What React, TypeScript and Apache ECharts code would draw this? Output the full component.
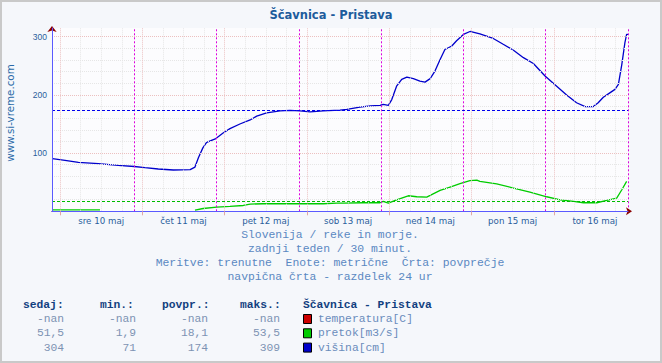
import React, { useEffect, useRef } from 'react';
import * as echarts from 'echarts';

// ---------- data ----------
const TITLE = 'Ščavnica - Pristava';
const WATERMARK = 'www.si-vreme.com';
const DAY_LABELS = ['sre 10 maj', 'čet 11 maj', 'pet 12 maj', 'sob 13 maj', 'ned 14 maj', 'pon 15 maj', 'tor 16 maj'];
const Y_LABELS = [100, 200, 300];

// hours since window start, value
const VISINA: [number, number][] = [
  [0.1, 90.5], [3.8, 87.6], [7.7, 84], [13.5, 82], [19.3, 79], [24.0, 77], [27.1, 75], [31.0, 72.7],
  [35.4, 71], [40.3, 71.5], [41.7, 76], [42.7, 92], [44.0, 109], [45.1, 118.6], [47.8, 125], [50.0, 135],
  [51.9, 142], [54.8, 150], [57.8, 157], [59.7, 163.5], [62.6, 169], [66.5, 172.7], [69.4, 173.3],
  [72.3, 172.7], [75.3, 171], [79.1, 172.7], [84.0, 173.8], [86.0, 175], [89.8, 179], [92.8, 181],
  [95.7, 182], [96.6, 183.6], [98.1, 182], [99.1, 192], [100.5, 215], [102.0, 226.7], [103.5, 230.7],
  [105.4, 228], [107.3, 223.8], [108.8, 222], [110.3, 228], [111.7, 241], [113.2, 261], [114.6, 278],
  [116.6, 284], [118.0, 293], [120.0, 304], [121.9, 309], [124.8, 305], [128.7, 297], [131.6, 287],
  [134.6, 276.7], [137.5, 264], [140.4, 254], [143.8, 232.5], [147.2, 215], [150.1, 200], [153.0, 186.5],
  [155.5, 180], [157.9, 180], [159.3, 186.5], [160.8, 196], [162.8, 204], [164.2, 209.5], [165.2, 218],
  [166.2, 252.6], [167.1, 290], [167.6, 304], [168, 304],
];

const PRETOK: [number, number | string][] = [
  [0, 2.5], [13.4, 2.5], [14.0, 2.3], [14.05, '-'], [41.7, 2], [44.1, 4.8], [48.0, 7.2], [51.9, 8.3],
  [55.8, 10], [57.8, 12.4], [61.6, 13], [69.4, 13], [79.1, 13], [83.0, 14], [85.0, 14], [90.8, 14.7],
  [95.7, 14.7], [96.6, 17], [98.1, 14], [100.5, 19.8], [103.9, 26.7], [106.4, 25], [109.3, 24.4],
  [110.3, 27.3], [113.2, 36], [116.1, 41.7], [119.0, 47.4], [121.9, 52.6], [123.9, 53.5], [124.8, 51.4],
  [129.7, 47], [134.6, 40], [139.4, 33], [144.3, 25], [148.2, 19.8], [152.1, 17], [155.0, 14.7],
  [158.9, 14.7], [161.8, 18.6], [164.7, 22.7], [166.2, 37], [167.6, 51.5],
];

const AVG_VISINA = 174;
const AVG_PRETOK = 18.1;

const FOOTER_LINES = [
  'Slovenija / reke in morje.',
  'zadnji teden / 30 minut.',
  'Meritve: trenutne  Enote: metrične  Črta: povprečje',
  'navpična črta - razdelek 24 ur',
];

const TABLE_HEADERS = ['sedaj:', 'min.:', 'povpr.:', 'maks.:'];
const SERIES_NAMES = ['temperatura[C]', 'pretok[m3/s]', 'višina[cm]'];
const SEDAJ = ['-nan', '51,5', '304'];
const MIN = ['-nan', '1,9', '71'];
const POVPR = ['-nan', '18,1', '174'];
const MAKS = ['-nan', '53,5', '309'];
const LEGEND_COLORS = ['#cc0000', '#00cc00', '#0000cc'];

// ---------- layout constants ----------
const SPAN = 168;
const MIDNIGHT0 = 2.35; // hours from start to first midnight
const Y_MAX = 315;

export default function App() {
  const ref = useRef<HTMLDivElement>(null);

  useEffect(() => {
    document.body.style.margin = '0';
    if (!ref.current) return;
    const chart = echarts.init(ref.current, null, { renderer: 'svg' });

    const sixHour: number[] = [];
    for (let t = MIDNIGHT0; t < SPAN; t += 6) sixHour.push(+t.toFixed(2));
    const midnights = sixHour.filter((_, i) => i % 4 === 0);
    const quarter = sixHour.filter((_, i) => i % 4 !== 0);
    const noons = DAY_LABELS.map((_, i) => +(MIDNIGHT0 + 12 + 24 * i).toFixed(2));
    const dayLines: number[] = [];
    for (let t = 24; t <= SPAN; t += 24) dayLines.push(t);
    const yMajor = [100, 200, 300];
    const yMinor: number[] = [];
    for (let v = 20; v <= 300; v += 20) if (v % 100 !== 0) yMinor.push(v);

    const mono = 'Liberation Mono';
    const graphic: any[] = [
      { type: 'rect', shape: { x: 1, y: 1, width: 660, height: 361 }, style: { fill: 'none', stroke: '#c9c9c9', lineWidth: 2 }, silent: true },
      { type: 'text', x: 331, y: 15, style: { text: TITLE, fill: '#1d5c9c', font: 'bold 11.5px "DejaVu Sans"', textAlign: 'center', textVerticalAlign: 'middle' } },
      { type: 'text', x: 10, y: 113, rotation: Math.PI / 2, style: { text: WATERMARK, fill: '#2a6aa8', font: '10.3px "DejaVu Sans"', textAlign: 'center', textVerticalAlign: 'middle' } },
    ];
    FOOTER_LINES.forEach((t, i) => {
      graphic.push({ type: 'text', x: 330, y: 235 + i * 14, style: { text: t, fill: '#5a88c2', font: `11.4px "${mono}"`, textAlign: 'center', textVerticalAlign: 'middle' } });
    });
    const headerX = [23, 100, 162, 240];
    const valueX = [64, 136, 208, 280];
    TABLE_HEADERS.forEach((h, i) => {
      graphic.push({ type: 'text', x: headerX[i], y: 305, style: { text: h, fill: '#123f80', font: `bold 11.3px "${mono}"`, textAlign: 'left', textVerticalAlign: 'middle' } });
    });
    graphic.push({ type: 'text', x: 303, y: 305, style: { text: TITLE, fill: '#123f80', font: `bold 11.3px "${mono}"`, textAlign: 'left', textVerticalAlign: 'middle' } });
    const cols = [SEDAJ, MIN, POVPR, MAKS];
    SERIES_NAMES.forEach((name, r) => {
      const y = 319 + r * 14.3;
      cols.forEach((col, c) => {
        graphic.push({ type: 'text', x: valueX[c], y, style: { text: col[r], fill: '#7d93b3', font: `11.3px "${mono}"`, textAlign: 'right', textVerticalAlign: 'middle' } });
      });
      graphic.push({ type: 'rect', shape: { x: 303.5, y: y - 4.5, width: 8, height: 9 }, style: { fill: LEGEND_COLORS[r], stroke: '#000', lineWidth: 1 } });
      graphic.push({ type: 'text', x: 318, y, style: { text: name, fill: '#6a8cbb', font: `11.3px "${mono}"`, textAlign: 'left', textVerticalAlign: 'middle' } });
    });

    const vLine = (v: number, color: string, type: any) => ({ xAxis: v, lineStyle: { color, type, width: 1 } });
    const hLine = (v: number, color: string, type: any) => ({ yAxis: v, lineStyle: { color, type, width: 1 } });

    const option: any = {
      animation: false,
      backgroundColor: '#f5f7fb',
      grid: { left: 52, top: 28, width: 576, height: 183.3, show: true, backgroundColor: '#fcfcfe', borderWidth: 0 },
      xAxis: [
        {
          type: 'value', min: 0, max: SPAN, position: 'bottom', z: 6,
          axisLine: { show: true, onZero: false, lineStyle: { color: '#5a5aff', width: 1 } },
          axisTick: { show: true, customValues: midnights, length: 4, lineStyle: { color: '#e0a6a6' } },
          axisLabel: {
            customValues: noons, color: '#2a5e9c', fontSize: 8.7, fontFamily: 'DejaVu Sans', margin: 5,
            formatter: (v: number) => DAY_LABELS[Math.round((v - MIDNIGHT0 - 12) / 24)] ?? '',
          },
          splitLine: { show: false },
        },
        {
          type: 'value', min: 0, max: SPAN, position: 'bottom', z: 5,
          axisLine: { show: true, onZero: false, symbol: ['none', 'arrow'], symbolSize: [6, 6], symbolOffset: [0, 4], lineStyle: { color: '#8b0000', width: 1 } },
          axisTick: { show: false }, axisLabel: { show: false }, splitLine: { show: false },
        },
      ],
      yAxis: [
        {
          type: 'value', min: 0, max: Y_MAX, interval: 100, position: 'left', z: 6,
          axisLine: { show: true, onZero: false, lineStyle: { color: '#5a5aff', width: 1 } },
          axisTick: { show: false },
          axisLabel: { customValues: Y_LABELS, color: '#2a5e9c', fontSize: 8.5, fontFamily: 'Liberation Sans', margin: 5 },
          splitLine: { show: false },
        },
        {
          type: 'value', min: 0, max: Y_MAX, interval: 100, position: 'left', z: 5,
          axisLine: { show: true, onZero: false, symbol: ['none', 'arrow'], symbolSize: [7, 6], symbolOffset: [0, 2], lineStyle: { color: '#8b0000', width: 1 } },
          axisTick: { show: false }, axisLabel: { show: false }, splitLine: { show: false },
        },
      ],
      series: [
        {
          type: 'line', xAxisIndex: 0, yAxisIndex: 0, data: [], z: 1, silent: true,
          markLine: {
            silent: true, symbol: ['none', 'none'], label: { show: false }, animation: false,
            data: [
              ...quarter.map((v) => vLine(v, '#e6e6e6', [1, 1])),
              ...yMinor.map((v) => hLine(v, '#e6e6e6', [1, 1])),
              ...midnights.map((v) => vLine(v, '#ecc0c0', [1, 1])),
              ...yMajor.map((v) => hLine(v, '#ecc0c0', [1, 1])),
            ],
          },
        },
        {
          type: 'line', xAxisIndex: 0, yAxisIndex: 0, data: [], z: 2, silent: true,
          markLine: {
            silent: true, symbol: ['none', 'none'], label: { show: false }, animation: false,
            data: [
              ...dayLines.map((v) => vLine(v, '#dd00dd', [2, 2])),
              hLine(AVG_VISINA, '#0000ee', [3, 2]),
              hLine(AVG_PRETOK, '#00bb00', [3, 2]),
            ],
          },
        },
        {
          name: 'pretok', type: 'line', xAxisIndex: 0, yAxisIndex: 0, data: PRETOK, z: 3,
          showSymbol: false, connectNulls: false, lineStyle: { color: '#00cc00', width: 1.3 }, itemStyle: { color: '#00cc00' },
        },
        {
          name: 'višina', type: 'line', xAxisIndex: 0, yAxisIndex: 0, data: VISINA, z: 3,
          showSymbol: false, lineStyle: { color: '#0000cc', width: 1.3 }, itemStyle: { color: '#0000cc' },
        },
      ],
      graphic,
    };
    chart.setOption(option);
    return () => chart.dispose();
  }, []);

  return <div ref={ref} style={{ width: 662, height: 363 }} />;
}
